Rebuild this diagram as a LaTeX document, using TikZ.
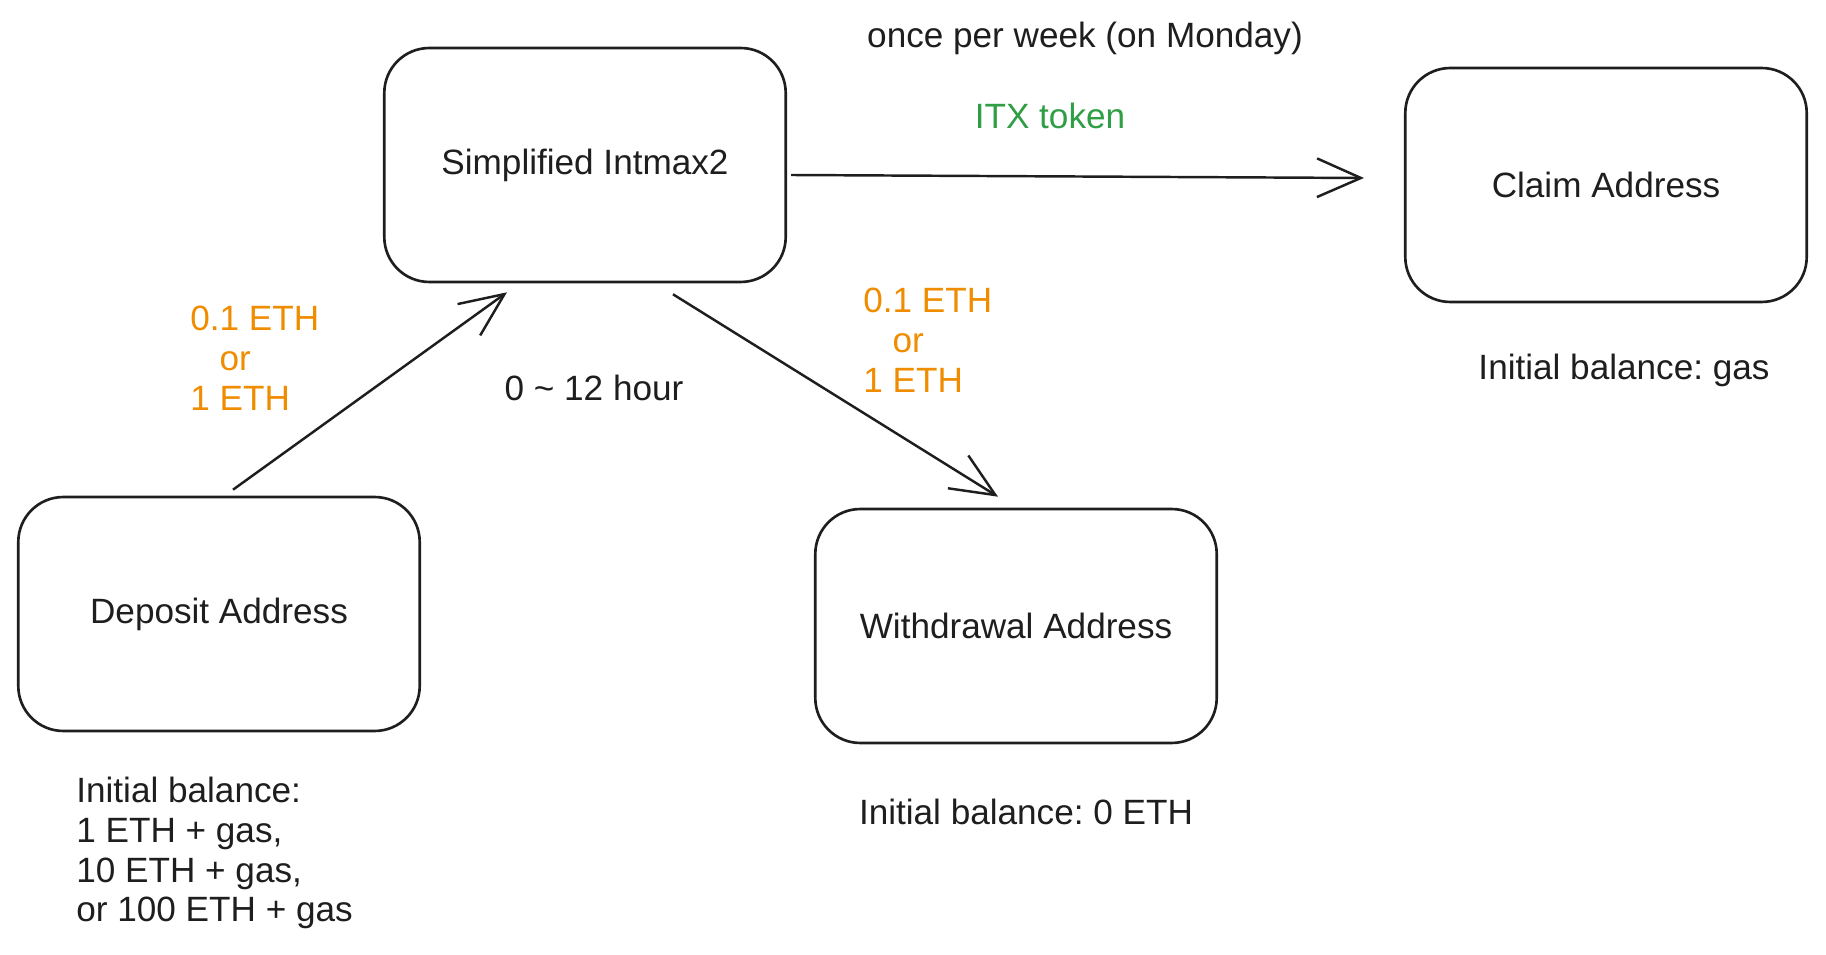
\documentclass[tikz,border=0pt]{standalone}
\usepackage{fontspec}
\setmainfont{Liberation Sans}
\usepackage{xcolor}
\usetikzlibrary{arrows.meta,calc}
\definecolor{inkblack}{HTML}{1E1E1E}
\definecolor{ethorange}{HTML}{F08C00}
\definecolor{itxgreen}{HTML}{2F9E44}
\frenchspacing
\tikzset{
AddrBox/.style={
 draw=inkblack,
 line width=1.5pt,
 rounded corners=0.9cm,
 minimum width=8.03cm,
 minimum height=4.68cm,
 text=inkblack
 },
Fleche/.style={
 draw=inkblack,
 line width=1.4pt,
 -{Straight Barb[length=25pt,width=22pt]}
 },
Label/.style={
 inner sep=0pt,
 text=inkblack
 },
EthLabel/.style={
 inner sep=0pt,
 text=ethorange,
 align=left
 }
}

\begin{document}
\begin{tikzpicture}[x=0.02cm,y=-0.02cm,font=\fontsize{20}{22.7}\selectfont]
\useasboundingbox (0,0) rectangle (1826,955);
% the four addresses
\node[AddrBox] (sim) at (585,165) {Simplified Intmax2};
\node[AddrBox] (claim) at (1606,185) {Claim Address};
\node[AddrBox] (dep) at (219,614) {Deposit Address};
\node[AddrBox] (wd) at (1016,626) {Withdrawal Address};
% flows
\draw[Fleche] ($(dep.north)+(14,-6)$) -- ($(sim.south)+(-78,9)$);
\draw[Fleche] ($(sim.south)+(88,11)$) -- ($(wd.north)+(-18,-11)$);
\draw[Fleche] ($(sim.east)+(4,10)$) -- ($(claim.west)+(-40,-7)$);
% labels
\node[Label] (once) at (1085,38) {once per week (on Monday)};
\node[Label,text=itxgreen] (itx) at (1050,116) {ITX token};
\node[EthLabel,anchor=west] (depeth) at (190,358) {0.1 ETH\\\phantom{0.}or\\1 ETH};
\node[EthLabel,anchor=west] (wdeth) at (863,340) {0.1 ETH\\\phantom{0.}or\\1 ETH};
\node[Label] (delay) at (594,388) {0 \textasciitilde\ 12 hour};
\node[Label] (claimbal) at (1624,370) {Initial balance: gas};
\node[Label] (wdbal) at (1026,812) {Initial balance: 0 ETH};
\node[Label,align=left,anchor=west] (depbal) at (76,853)
 {Initial balance:\\1 ETH + gas,\\10 ETH + gas,\\or 100 ETH + gas};
\end{tikzpicture}
\end{document}
